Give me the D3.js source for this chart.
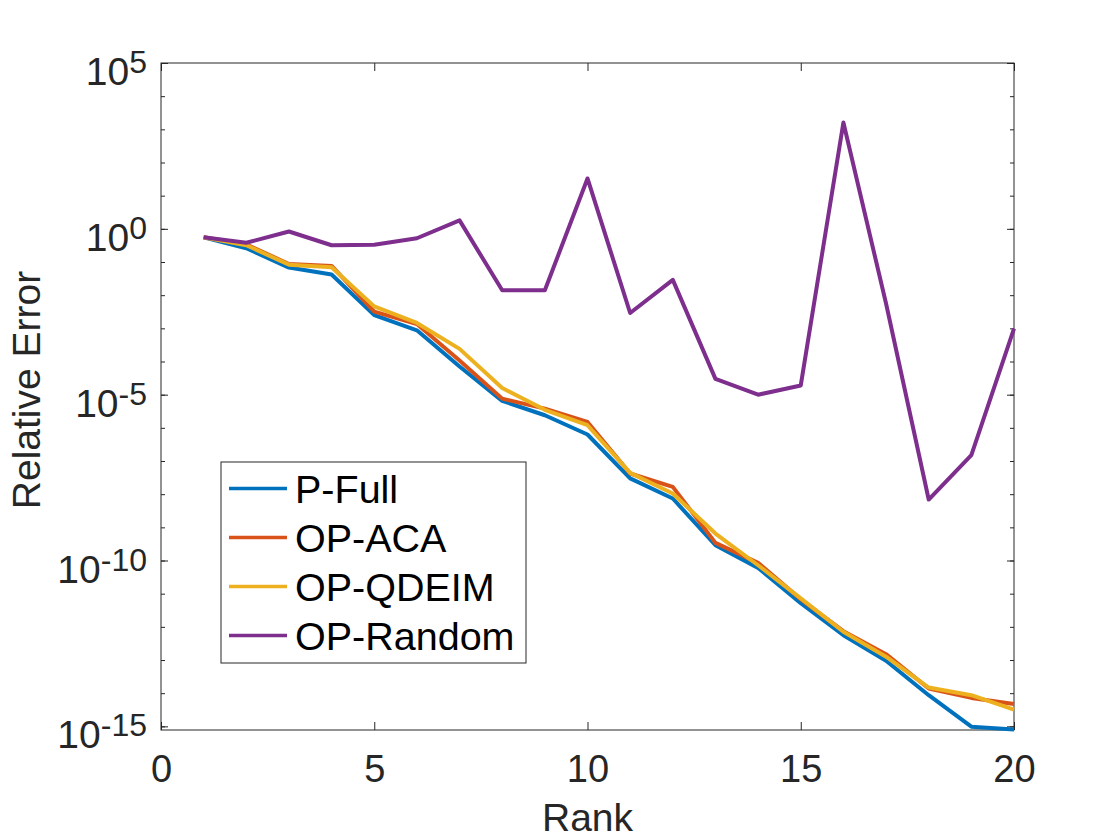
<!DOCTYPE html>
<html>
<head>
<meta charset="utf-8">
<script src="https://cdn.jsdelivr.net/npm/d3@7"></script>
<style>
  body { margin: 0; background: #fff; }
  svg { font-family: "Liberation Sans", Arial, Helvetica, sans-serif; }
</style>
</head>
<body>
<div id="chart"></div>
<script>
// relative error vs rank
var ranks = [1, 2, 3, 4, 5, 6, 7, 8, 9, 10, 11, 12, 13, 14, 15, 16, 17, 18, 19, 20];

var pFull = [5.6e-1, 2.6e-1, 6.8e-2, 4.2e-2, 2.5e-3, 8.7e-4, 7.1e-5, 6.5e-6, 2.4e-6, 6.3e-7,
             3.0e-8, 7.4e-9, 2.9e-10, 6.0e-11, 5.2e-12, 5.6e-13, 9.5e-14, 8.7e-15, 9.8e-16, 8.1e-16];
var opACA = [5.6e-1, 3.4e-1, 8.7e-2, 7.6e-2, 3.2e-3, 1.35e-3, 1.07e-4, 7.6e-6, 3.8e-6, 1.5e-6,
             4.2e-8, 1.66e-8, 3.4e-10, 8.5e-11, 6.8e-12, 7.4e-13, 1.5e-13, 1.38e-14, 7.2e-15, 4.7e-15];
var opQDEIM = [5.6e-1, 3.2e-1, 8.3e-2, 6.9e-2, 4.6e-3, 1.45e-3, 2.4e-4, 1.6e-5, 3.5e-6, 1.2e-6,
               4.4e-8, 1.05e-8, 6.5e-10, 7.2e-11, 7.2e-12, 7.1e-13, 1.26e-13, 1.48e-14, 8.7e-15, 3.2e-15];
var opRandom = [5.6e-1, 3.8e-1, 8.3e-1, 3.2e-1, 3.3e-1, 5.2e-1, 1.8e0, 1.4e-2, 1.4e-2, 3.3e1,
                2.9e-3, 2.9e-2, 3.0e-5, 1.0e-5, 1.9e-5, 1.6e3, 5.6e-3, 6.9e-9, 1.5e-7, 9.8e-4];

var seriesNames = ["P-Full", "OP-ACA", "OP-QDEIM", "OP-Random"];
var seriesValues = [pFull, opACA, opQDEIM, opRandom];
var seriesColors = ["#0072BD", "#D95319", "#EDB120", "#7E2F8E"];

var xTicks = [0, 5, 10, 15, 20];
var yMajorExps = [-15, -10, -5, 0, 5];
var yMinorExps = d3.range(-15, 6);

var W = 1120, H = 840;
var pLeft = 161, pRight = 1014, pTop = 63, pBottom = 730;
var ink = "#262626";

var svg = d3.select("#chart").append("svg")
    .attr("width", W)
    .attr("height", H);

svg.append("rect").attr("width", W).attr("height", H).attr("fill", "#fff");

var x = d3.scaleLinear().domain([0, 20]).range([pLeft, pRight]);
var y = d3.scaleLog().domain([Math.pow(10, -15.11), 1e5]).range([pBottom, pTop]);

// x axes (ticks point inward)
var xb = svg.append("g")
    .attr("transform", "translate(0," + pBottom + ")")
    .call(d3.axisBottom(x).tickValues(xTicks).tickSize(-8).tickSizeOuter(0).tickPadding(25));
svg.append("g")
    .attr("transform", "translate(0," + pTop + ")")
    .call(d3.axisTop(x).tickValues(xTicks).tickSize(-8).tickSizeOuter(0).tickFormat(""));

xb.selectAll("text")
    .attr("font-size", 38)
    .attr("fill", ink);

// y axes: minor decade ticks, then major every 5 decades
function yAxis(gen, at, size, exps) {
  return svg.append("g")
    .attr("transform", "translate(" + at + ",0)")
    .call(gen(y).tickValues(exps.map(function (e) { return Math.pow(10, e); }))
      .tickSize(-size).tickSizeOuter(0).tickFormat(""));
}
yAxis(d3.axisLeft, pLeft, 4, yMinorExps);
yAxis(d3.axisRight, pRight, 4, yMinorExps);
var yl = yAxis(d3.axisLeft, pLeft, 7, yMajorExps);
yAxis(d3.axisRight, pRight, 7, yMajorExps);

svg.selectAll(".domain").remove();
svg.selectAll(".tick line").attr("stroke", ink).attr("stroke-width", 1);
yl.selectAll(".tick text").remove();

// 10^n labels
yl.selectAll(".tick").each(function (d) {
  var t = d3.select(this).append("text")
      .attr("x", -14)
      .attr("y", 21.5)
      .attr("text-anchor", "end")
      .attr("fill", ink);
  t.append("tspan").attr("font-size", 39).text("10");
  t.append("tspan").attr("font-size", 32).attr("dy", -12)
      .text(Math.round(Math.log10(d)));
});

// box
svg.append("rect")
    .attr("x", pLeft).attr("y", pTop)
    .attr("width", pRight - pLeft).attr("height", pBottom - pTop)
    .attr("fill", "none").attr("stroke", ink).attr("stroke-width", 1);

// lines
var line = d3.line()
    .x(function (d, i) { return x(ranks[i]); })
    .y(function (d) { return y(d); });

svg.append("g").selectAll("path")
    .data(seriesValues)
    .enter()
    .append("path")
    .attr("d", line)
    .attr("fill", "none")
    .attr("stroke", function (d, i) { return seriesColors[i]; })
    .attr("stroke-width", 4)
    .attr("stroke-linejoin", "round");

// axis labels
svg.append("text")
    .attr("x", (pLeft + pRight) / 2).attr("y", 831)
    .attr("text-anchor", "middle")
    .attr("font-size", 39).attr("fill", ink)
    .text("Rank");

svg.append("text")
    .attr("transform", "translate(40,390) rotate(-90)")
    .attr("text-anchor", "middle")
    .attr("font-size", 39).attr("fill", ink)
    .text("Relative Error");

// legend
var legend = svg.append("g");
legend.append("rect")
    .attr("x", 221).attr("y", 462)
    .attr("width", 305).attr("height", 201)
    .attr("fill", "#fff").attr("stroke", ink).attr("stroke-width", 1);

var ly = d3.scalePoint().domain(seriesNames).range([488.5, 635.5]);

var rows = legend.selectAll("g.row")
    .data(seriesNames)
    .enter()
    .append("g")
    .attr("class", "row")
    .attr("transform", function (d) { return "translate(0," + ly(d) + ")"; });

rows.append("line")
    .attr("x1", 229).attr("x2", 287)
    .attr("stroke", function (d, i) { return seriesColors[i]; })
    .attr("stroke-width", 3.5);

rows.append("text")
    .attr("x", 295).attr("y", 14.5)
    .attr("font-size", 39.5).attr("fill", "#000")
    .text(function (d) { return d; });
</script>
</body>
</html>
